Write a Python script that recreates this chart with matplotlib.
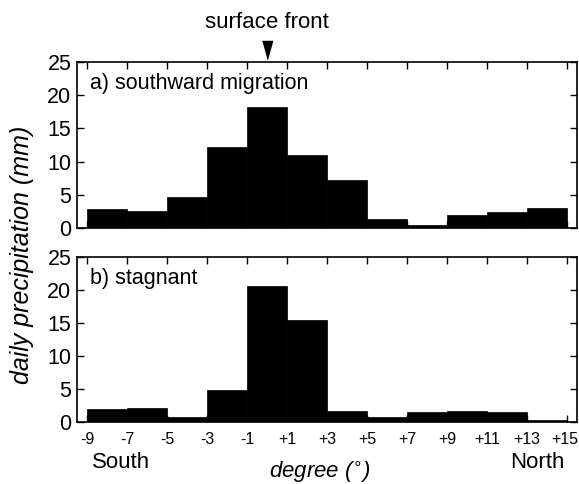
import matplotlib
matplotlib.use("Agg")
import matplotlib.pyplot as plt
import matplotlib.transforms as mtransforms
import numpy as np

plt.rcParams['font.family'] = ['Liberation Sans', 'DejaVu Sans']

bin_edges = [-9, -7, -5, -3, -1, 1, 3, 5, 7, 9, 11, 13, 15]
tick_labels = ['-9', '-7', '-5', '-3', '-1', '+1', '+3', '+5', '+7', '+9', '+11', '+13', '+15']
southward = [2.8, 2.6, 4.7, 12.2, 18.2, 11.0, 7.2, 1.3, 0.5, 1.9, 2.4, 3.0]
stagnant = [1.9, 2.1, 0.8, 4.8, 20.6, 15.5, 1.7, 0.75, 1.55, 1.7, 1.5, 0.25]
yticks = [0, 5, 10, 15, 20, 25]

W, H = 579, 484
fig = plt.figure(figsize=(W / 100, H / 100), dpi=100)

def rect(l, t, r, b):
    return [l / W, 1 - b / H, (r - l) / W, (b - t) / H]

ax1 = fig.add_axes(rect(77, 62, 577, 228))
ax2 = fig.add_axes(rect(77, 257, 577, 422))

lefts = bin_edges[:-1]
for ax, vals, label in [(ax1, southward, 'a) southward migration'), (ax2, stagnant, 'b) stagnant')]:
    ax.bar(lefts, vals, width=2, align='edge', color='black', edgecolor='black', linewidth=0.5)
    ax.set_xlim(-9.5, 15.5)
    ax.set_ylim(0, 25)
    ax.set_yticks(yticks)
    ax.set_xticks(bin_edges)
    ax.tick_params(direction='in', top=True, right=True, length=5, width=1.0)
    ax.tick_params(axis='y', labelsize=15.5, pad=4)
    ax.tick_params(axis='x', labelsize=11.5, pad=7)
    for s in ax.spines.values():
        s.set_linewidth(1.2)
    ax.text(0.025, 0.87, label, transform=ax.transAxes, fontsize=15.5, va='center', ha='left')

ax1.set_xticklabels([])
ax2.set_xticklabels(tick_labels)
# nudge the last tick label so it stays inside the figure
last = ax2.get_xticklabels()[-1]
last.set_transform(last.get_transform() + mtransforms.ScaledTranslation(-2 / 100, 0, fig.dpi_scale_trans))

# surface front marker
trans = mtransforms.blended_transform_factory(ax1.transData, ax1.transAxes)
ax1.plot([0], [1.07], marker=[(-5, 9), (5, 9), (0, -9)], markersize=13, color='black',
         transform=trans, clip_on=False)
ax1.text(0, 1.235, 'surface front', transform=trans, ha='center', va='center', fontsize=16)

fig.text(121 / W, 1 - 462 / H, 'South', ha='center', va='center', fontsize=16)
fig.text(537 / W, 1 - 462 / H, 'North', ha='center', va='center', fontsize=16)
fig.text(320 / W, 1 - 472 / H, 'degree ($^{\\circ}$)', ha='center', va='center', fontsize=16, style='italic')
fig.text(22 / W, 1 - 255 / H, 'daily precipitation (mm)', ha='center', va='center', rotation=90,
         fontsize=18, style='italic')

fig.savefig('out.png', dpi=100)
